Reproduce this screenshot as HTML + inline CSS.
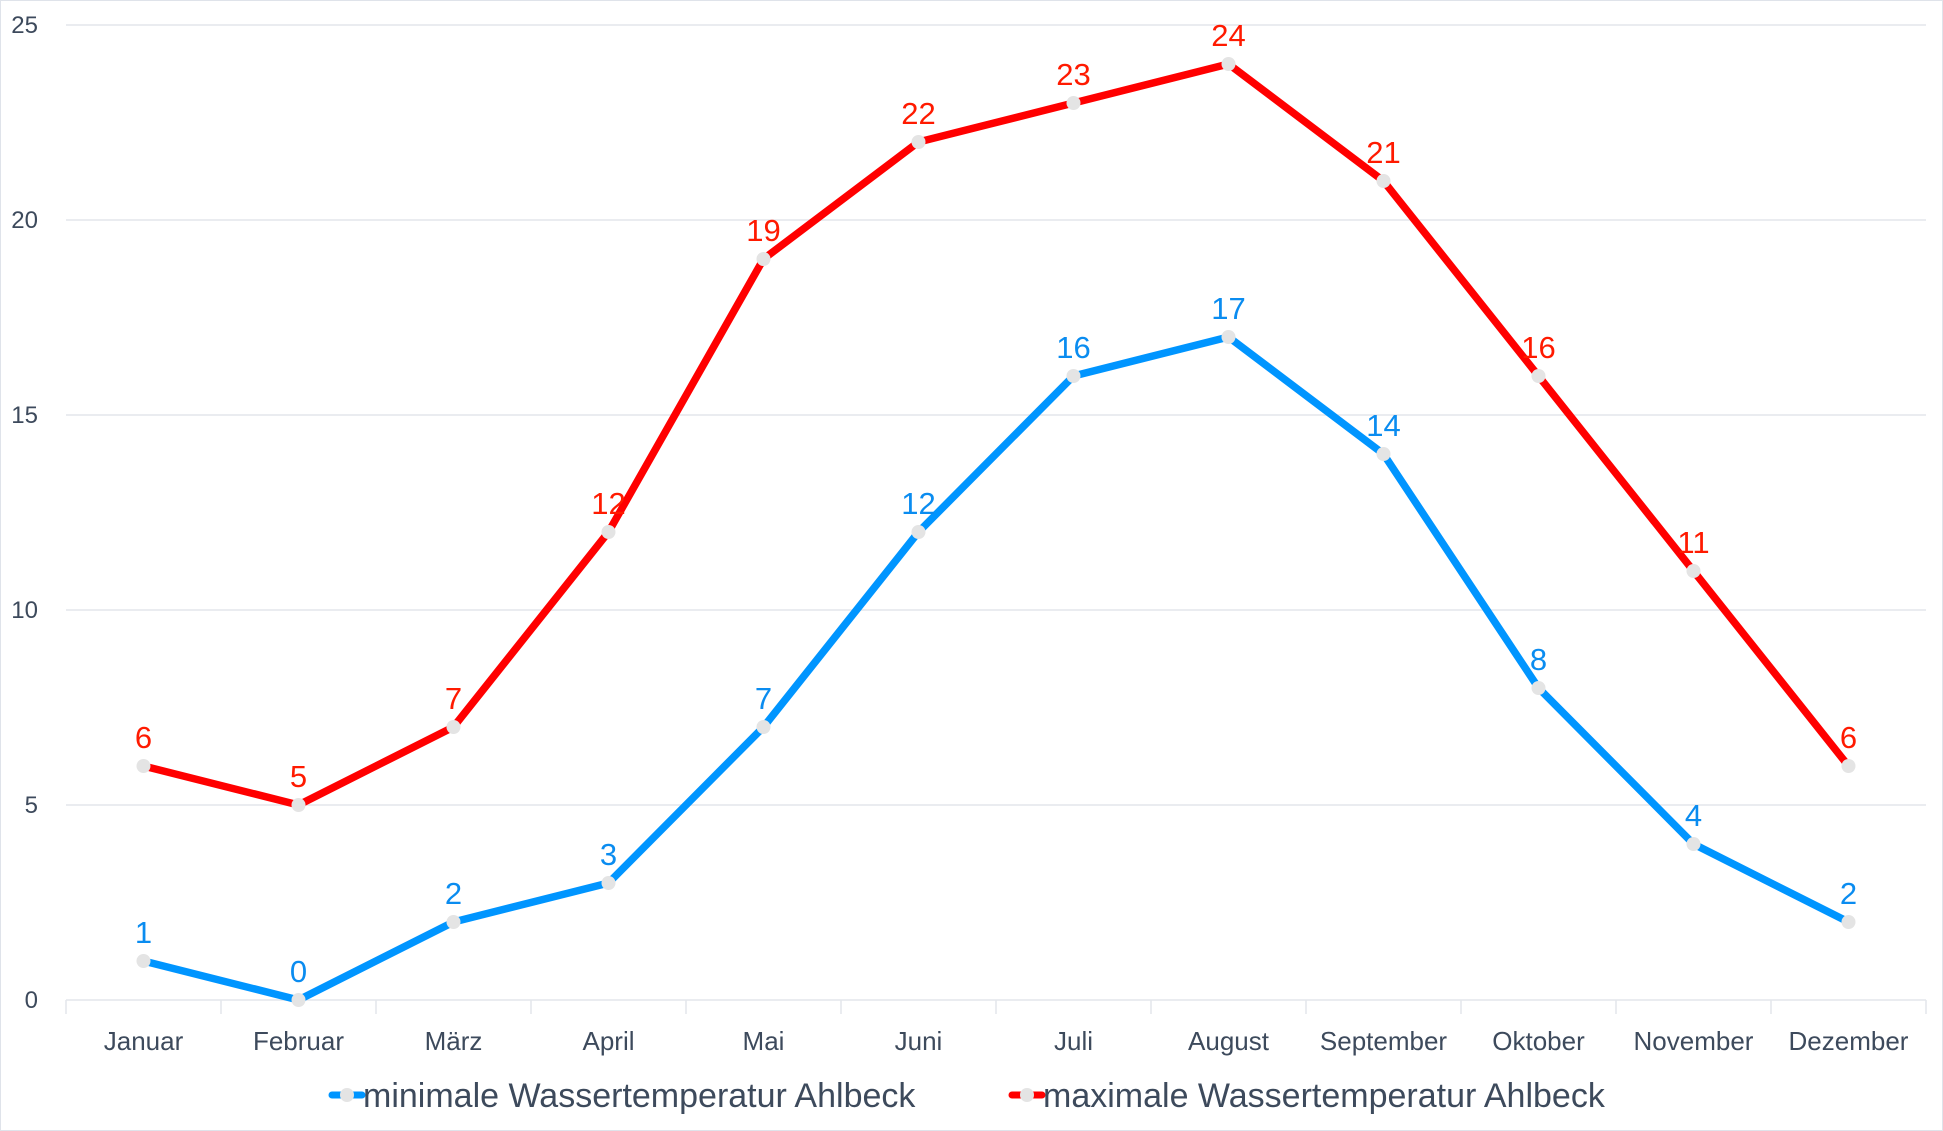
<!DOCTYPE html>
<html><head><meta charset="utf-8"><style>
html,body{margin:0;padding:0;background:#fff}
svg{display:block}
text{font-family:"Liberation Sans",sans-serif}
</style></head><body>
<svg width="1943" height="1131" viewBox="0 0 1943 1131" xmlns="http://www.w3.org/2000/svg">
<rect x="0.5" y="0.5" width="1942" height="1130" fill="#fff" stroke="#dfe3ea"/>
<g stroke="#e3e6eb" stroke-width="1.5">
<line x1="66" y1="25" x2="1926" y2="25"/>
<line x1="66" y1="220" x2="1926" y2="220"/>
<line x1="66" y1="415" x2="1926" y2="415"/>
<line x1="66" y1="610" x2="1926" y2="610"/>
<line x1="66" y1="805" x2="1926" y2="805"/>
<line x1="66" y1="1000" x2="1926" y2="1000"/>
<g id="ticks"></g>
</g>
<g fill="#3d4a5c" font-size="24" text-anchor="end">
<text x="38" y="33">25</text><text x="38" y="228">20</text><text x="38" y="423">15</text>
<text x="38" y="618">10</text><text x="38" y="813">5</text><text x="38" y="1008">0</text>
</g>
</svg>
<script>
var ns="http://www.w3.org/2000/svg",svg=document.querySelector("svg");
function el(t,a,p){var e=document.createElementNS(ns,t);for(var k in a)e.setAttribute(k,a[k]);(p||svg).appendChild(e);return e}
var months=["Januar","Februar","März","April","Mai","Juni","Juli","August","September","Oktober","November","Dezember"];
var mn=[1,0,2,3,7,12,16,17,14,8,4,2],mx=[6,5,7,12,19,22,23,24,21,16,11,6];
var tk=document.getElementById("ticks");
for(var i=0;i<=12;i++)el("line",{x1:66+155*i,y1:1000,x2:66+155*i,y2:1014},tk);
function X(i){return 143.5+155*i}function Y(v){return 1000-39*v}
months.forEach(function(m,i){var t=el("text",{x:X(i),y:1050,"text-anchor":"middle","font-size":"26",fill:"#3d4a5c"});t.textContent=m});
[[mn,"#0095ff","#0a8cf0"],[mx,"#ff0000","#ff1a00"]].forEach(function(s){
var d=s[0].map(function(v,i){return(i?"L":"M")+X(i)+","+Y(v)}).join("");
el("path",{d:d,fill:"none",stroke:s[1],"stroke-width":"7.5","stroke-linejoin":"round","stroke-linecap":"round"});
s[0].forEach(function(v,i){el("circle",{cx:X(i),cy:Y(v),r:7,fill:"#e4e4e4"});
var t=el("text",{x:X(i),y:Y(v)-18,"text-anchor":"middle","font-size":"31",fill:s[2]});t.textContent=v});
});
[[332,"#0095ff","minimale Wassertemperatur Ahlbeck",363],[1012,"#ff0000","maximale Wassertemperatur Ahlbeck",1043]].forEach(function(l){
el("line",{x1:l[0],y1:1095,x2:l[0]+30,y2:1095,stroke:l[1],"stroke-width":"7","stroke-linecap":"round"});
el("circle",{cx:l[0]+15,cy:1095,r:7,fill:"#e4e4e4"});
var t=el("text",{x:l[3],y:1107,"font-size":"34",fill:"#3d4a5c"});t.textContent=l[2]});
</script>
</body></html>
